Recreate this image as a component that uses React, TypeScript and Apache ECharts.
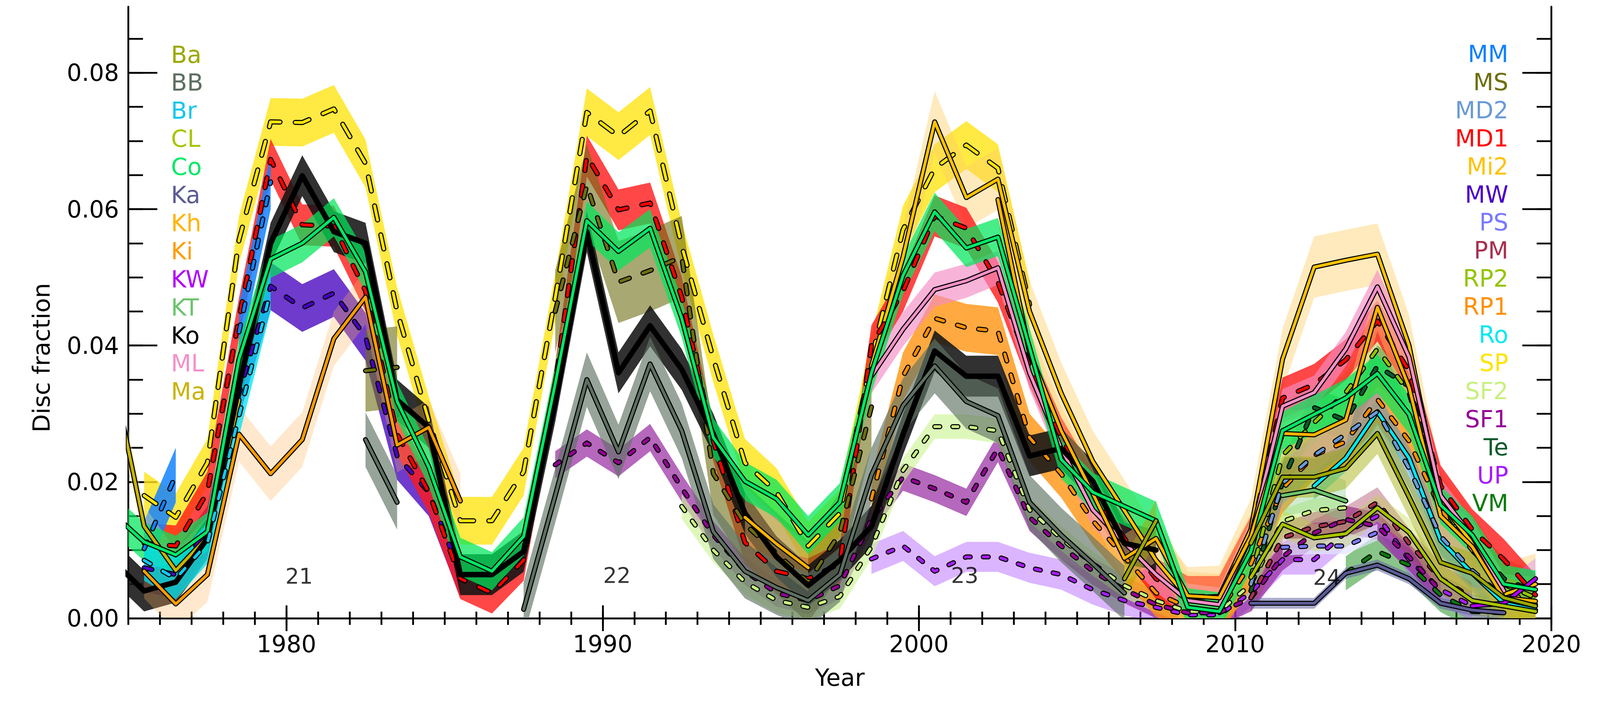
import React, { useEffect, useRef, useState } from "react";
import * as echarts from "echarts";

// ---------- data (annual means, plotted at mid-year) ----------
const LEGEND_LEFT = ["Ba", "BB", "Br", "CL", "Co", "Ka", "Kh", "Ki", "KW", "KT", "Ko", "ML", "Ma"];
const LEGEND_RIGHT = ["MM", "MS", "MD2", "MD1", "Mi2", "MW", "PS", "PM", "RP2", "RP1", "Ro", "SP", "SF2", "SF1", "Te", "UP", "VM"];

const Ba_FROM = 2006.5;
const Ba_VAL = [0.0058, 0.0143, null, null, 0.011, 0.0207, 0.0207, 0.022, 0.0271, 0.0178, 0.0082, 0.0066, 0.003, 0.0018];
const BB_FROM = 1982.5;
const BB_VAL = [0.0262, 0.017, null, null, null, 0.0013, 0.018, 0.035, 0.0244, 0.0373, 0.0275, 0.0127, 0.0069, 0.0045, 0.0026, 0.0064, 0.021, 0.0312, 0.037, 0.0318, 0.0297, 0.017, 0.0122, 0.008, 0.0037];
const Br_FROM = 1975.5;
const Br_VAL = [0.0085, 0.0058, 0.011, 0.0297, 0.048];
const CL_FROM = 2010.5;
const CL_VAL = [0.006, 0.0138, 0.0118, 0.0124, 0.0162, 0.0126, 0.0058, 0.0026, 0.0018, 0.001];
const Co_FROM = 1974.5;
const Co_VAL = [0.0154, 0.0112, 0.0093, 0.0127, 0.038, 0.0527, 0.055, 0.0588, 0.0508, 0.0318, 0.0222, 0.009, 0.0069, 0.012, 0.0344, 0.0583, 0.0538, 0.0572, 0.044, 0.0265, 0.0201, 0.0175, 0.0122, 0.017, 0.036, 0.0503, 0.0596, 0.0543, 0.0559, 0.0397, 0.0233, 0.0185, 0.0164, 0.0143, 0.0016, 0.001, 0.0098, 0.0275, 0.0299, 0.0323, 0.0359, 0.0299, 0.0166, 0.0122, 0.005, 0.0042];
const Ka_FROM = 2010.5;
const Ka_VAL = [0.0022, 0.0022, 0.0022, 0.0066, 0.0078, 0.0058, 0.0022, 0.0012, 0.0008];
const Kh_FROM = 1994.5;
const Kh_VAL = [0.0148, 0.0109, 0.0074, null, null, null, null, null, 0.0614, 0.039, 0.0275, 0.0183, 0.0088, 0.0117, 0.0033, 0.003, 0.012, 0.0271, 0.0269, 0.0291, 0.0456, 0.0339, 0.015, 0.0105, 0.003, 0.0025];
const Ki_FROM = 1975.5;
const Ki_VAL = [0.0069, 0.0021, 0.0064, 0.027, 0.0212, 0.0262, 0.041, 0.0471, 0.0254, 0.028, 0.0172];
const KW_FROM = 2017.5;
const KW_VAL = [0.0018, 0.0022, 0.0058];
const KT_FROM = 2011.5;
const KT_VAL = [0.018, 0.0188, 0.0172];
const Ko_FROM = 1974.5;
const Ko_VAL = [0.0085, 0.004, 0.0053, 0.0117, 0.034, 0.055, 0.0649, 0.0567, 0.055, 0.032, 0.028, 0.0064, 0.0064, 0.0098, 0.0318, 0.0567, 0.036, 0.0429, 0.0365, 0.027, 0.0154, 0.009, 0.0048, 0.0085, 0.0135, 0.027, 0.0392, 0.0355, 0.0355, 0.0238, 0.0249, 0.0201, 0.011, 0.01];
const ML_FROM = 1998.5;
const ML_VAL = [0.0355, 0.0424, 0.0482, 0.0495, 0.0514, 0.036, 0.0249, 0.0159, 0.0111, 0.0064, 0.0026, 0.002, 0.012, 0.0311, 0.0331, 0.0395, 0.0486, 0.0383, 0.018, 0.012, 0.004];
const Ma_FROM = 1974.5;
const Ma_VAL = [0.036, 0.0135, 0.007, 0.0119, 0.032];
const MM_FROM = 1975.5;
const MM_VAL = [0.0102, 0.021, null, 0.042, 0.064];
const MS_FROM = 1982.5;
const MS_VAL = [0.0363, 0.0368, null, null, null, null, 0.045, 0.0635, 0.0493, 0.051, 0.053, 0.0212, 0.0138, 0.0095, 0.0053, 0.0125, 0.031];
const MD2_FROM = 2010.5;
const MD2_VAL = [0.005, 0.0198, 0.0239, 0.027, 0.0303, 0.022, 0.012, 0.007, 0.003];
const MD1_FROM = 1975.5;
const MD1_VAL = [0.011, 0.0106, 0.0185, 0.044, 0.0673, 0.0577, 0.0575, 0.048, 0.027, 0.0185, 0.0058, 0.0037, 0.0085, 0.0344, 0.0678, 0.0599, 0.0609, 0.0471, 0.026, 0.0111, 0.0069, 0.0058, 0.008, 0.04, 0.048, 0.059, 0.0572, 0.0493, 0.037, 0.0265, 0.0185, 0.0117, 0.0058, 0.0032, 0.0032, 0.012, 0.0323, 0.0343, 0.0379, 0.0436, 0.0363, 0.0194, 0.013, 0.0086, 0.0034];
const Mi2_FROM = 1998.5;
const Mi2_VAL = [0.037, 0.053, 0.0728, 0.0617, 0.0644, 0.045, 0.033, 0.023, 0.0158, 0.0085, 0.003, 0.0032, 0.013, 0.038, 0.0515, 0.0525, 0.0534, 0.04, 0.017, 0.011, 0.0035, 0.005];
const MW_FROM = 1975.5;
const MW_VAL = [0.0074, 0.0064, 0.013, 0.033, 0.0487, 0.0455, 0.0477, 0.0413, 0.0238, 0.0185, 0.0065];
const PS_FROM = 2011.5;
const PS_VAL = [0.0104, 0.0106, 0.0106, 0.0126];
const PM_FROM = 2010.5;
const PM_VAL = [0.003, 0.0118, 0.0134, 0.0142, 0.017, 0.011, 0.0058, 0.003];
const RP2_FROM = 2010.5;
const RP2_VAL = [0.006, 0.0239, 0.0287, 0.0331, 0.0395, 0.0331, 0.017, 0.01, 0.005, 0.003];
const RP1_FROM = 1998.5;
const RP1_VAL = [0.0175, 0.0355, 0.044, 0.0426, 0.0421, 0.0265, 0.0212, 0.0143, 0.009, 0.0037, 0.0016, 0.001, 0.008, 0.019, 0.0239, 0.0259, 0.0321, 0.026, 0.016, 0.01, 0.004, 0.002];
const Ro_FROM = 2012.5;
const Ro_VAL = [0.0194, 0.0235, 0.0303, 0.0235, 0.0114, 0.0066, 0.0022, 0.0012];
const SP_FROM = 1975.5;
const SP_VAL = [0.018, 0.0148, 0.0228, 0.0555, 0.0728, 0.0727, 0.0747, 0.0667, 0.045, 0.029, 0.0143, 0.0143, 0.0215, 0.047, 0.0742, 0.0707, 0.0744, 0.0546, 0.0381, 0.0228, 0.0185, 0.0106, 0.0154, 0.038, 0.057, 0.066, 0.0694, 0.066, 0.046];
const SF2_FROM = 1992.5;
const SF2_VAL = [0.0164, 0.01, 0.0053, 0.0026, 0.0016, 0.0032, 0.0105, 0.0217, 0.0281, 0.0281, 0.0275, 0.0159, 0.0117, 0.008, 0.0048, 0.0026, 0.001, 0.001, 0.005, 0.0142, 0.0158, 0.0162];
const SF1_FROM = 1988.5;
const SF1_VAL = [0.0225, 0.0257, 0.0228, 0.0265, 0.0191, 0.0122, 0.0069, 0.0037, 0.0026, 0.0048, 0.0145, 0.0207, 0.019, 0.017, 0.0249, 0.0148, 0.0106, 0.0069, 0.0042, 0.002, 0.0008, 0.0008, 0.003, 0.009, 0.0125, 0.0145, 0.0135, 0.009, 0.004];
const Te_FROM = 2010.5;
const Te_VAL = [0.004, 0.02, 0.0309, 0.029, 0.037, 0.034, 0.0178, 0.011, 0.0058, 0.0038];
const UP_FROM = 1998.5;
const UP_VAL = [0.0087, 0.0106, 0.0069, 0.009, 0.009, 0.0074, 0.0064, 0.0042, 0.0026, 0.0016, 0.0005, 0.0005, 0.0038, 0.0086, 0.0086, 0.0126, 0.015, 0.0086, 0.0042, 0.0018];
const VM_FROM = 2013.5;
const VM_VAL = [0.0066, 0.0098, 0.0078, 0.0034, 0.001, 0.0008];

// half-width of each uncertainty band
const BAND_HALF_WIDTH: Record<string, number> = {
  Ba: 0.003, BB: 0.004, Br: 0.003, CL: 0.002, Co: 0.0028, Ka: 0.0008, Kh: 0.0035, Ki: 0.004,
  KW: 0.003, KT: 0.003, Ko: 0.003, ML: 0.0025, Ma: 0.003, MM: 0.004, MS: 0.006, MD2: 0.003,
  MD1: 0.003, Mi2: 0.0045, MW: 0.0035, PS: 0.0012, PM: 0.0022, RP2: 0.003, RP1: 0.0035,
  Ro: 0.002, SP: 0.0035, SF2: 0.0018, SF1: 0.002, Te: 0.003, UP: 0.0022, VM: 0.0025,
};

const SERIES_DATA: Record<string, [number, (number | null)[]]> = {
  Ba: [Ba_FROM, Ba_VAL], BB: [BB_FROM, BB_VAL], Br: [Br_FROM, Br_VAL], CL: [CL_FROM, CL_VAL],
  Co: [Co_FROM, Co_VAL], Ka: [Ka_FROM, Ka_VAL], Kh: [Kh_FROM, Kh_VAL], Ki: [Ki_FROM, Ki_VAL],
  KW: [KW_FROM, KW_VAL], KT: [KT_FROM, KT_VAL], Ko: [Ko_FROM, Ko_VAL], ML: [ML_FROM, ML_VAL],
  Ma: [Ma_FROM, Ma_VAL], MM: [MM_FROM, MM_VAL], MS: [MS_FROM, MS_VAL], MD2: [MD2_FROM, MD2_VAL],
  MD1: [MD1_FROM, MD1_VAL], Mi2: [Mi2_FROM, Mi2_VAL], MW: [MW_FROM, MW_VAL], PS: [PS_FROM, PS_VAL],
  PM: [PM_FROM, PM_VAL], RP2: [RP2_FROM, RP2_VAL], RP1: [RP1_FROM, RP1_VAL], Ro: [Ro_FROM, Ro_VAL],
  SP: [SP_FROM, SP_VAL], SF2: [SF2_FROM, SF2_VAL], SF1: [SF1_FROM, SF1_VAL], Te: [Te_FROM, Te_VAL],
  UP: [UP_FROM, UP_VAL], VM: [VM_FROM, VM_VAL],
};

const CYCLE_NAMES = ["21", "22", "23", "24"];
const CYCLE_X = [1980.4, 1990.45, 2001.45, 2012.9];
const CYCLE_Y = [0.0062, 0.0063, 0.0063, 0.006];

const X_MIN = 1975;
const X_MAX = 2020;
const Y_MIN = 0;
const Y_MAX = 0.0897;
const X_MAJOR = [1980, 1990, 2000, 2010, 2020];
const X_MINOR = Array.from({ length: 46 }, (_, i) => 1975 + i);
const Y_MAJOR = [0, 0.02, 0.04, 0.06, 0.08];
const Y_MINOR = Array.from({ length: 18 }, (_, i) => +(i * 0.005).toFixed(3));

// ---------- styles ----------
type Sty = { color: string; band: string; kind: "solid" | "plain" | "dash"; dash?: number[] };
const STYLE: Record<string, Sty> = {
  Ba: { color: "#9ca800", band: "rgba(160,170,0,0.45)", kind: "solid" },
  BB: { color: "#5d6f62", band: "rgba(95,115,100,0.65)", kind: "solid" },
  Br: { color: "#12c8ee", band: "rgba(0,225,240,0.75)", kind: "dash", dash: [20, 40] },
  CL: { color: "#a8c400", band: "rgba(190,215,60,0.35)", kind: "solid" },
  Co: { color: "#00e865", band: "rgba(0,230,90,0.72)", kind: "solid" },
  Ka: { color: "#5b5b95", band: "rgba(100,100,160,0.55)", kind: "solid" },
  Kh: { color: "#ffb400", band: "rgba(255,205,110,0.4)", kind: "solid" },
  Ki: { color: "#ff9c00", band: "rgba(255,180,90,0.3)", kind: "solid" },
  KW: { color: "#b000ff", band: "rgba(200,120,255,0.35)", kind: "solid" },
  KT: { color: "#6cc46c", band: "rgba(120,200,130,0.35)", kind: "solid" },
  Ko: { color: "#000000", band: "rgba(20,20,20,0.88)", kind: "plain" },
  ML: { color: "#f590c8", band: "rgba(245,140,195,0.65)", kind: "solid" },
  Ma: { color: "#c8b400", band: "rgba(235,225,150,0.35)", kind: "solid" },
  MM: { color: "#1080ff", band: "rgba(20,130,255,0.85)", kind: "dash", dash: [20, 40] },
  MS: { color: "#6e6e10", band: "rgba(110,110,20,0.6)", kind: "dash", dash: [25, 40] },
  MD2: { color: "#6a9ad6", band: "rgba(100,150,210,0.5)", kind: "dash", dash: [20, 40] },
  MD1: { color: "#ff0000", band: "rgba(255,25,25,0.8)", kind: "dash", dash: [28, 42] },
  Mi2: { color: "#ffc200", band: "rgba(255,205,100,0.42)", kind: "solid" },
  MW: { color: "#4a00c8", band: "rgba(85,25,195,0.85)", kind: "dash", dash: [22, 40] },
  PS: { color: "#7a7aff", band: "rgba(225,230,255,0.7)", kind: "dash", dash: [14, 36] },
  PM: { color: "#a83050", band: "rgba(165,60,90,0.4)", kind: "dash", dash: [14, 36] },
  RP2: { color: "#94c400", band: "rgba(150,200,30,0.45)", kind: "dash", dash: [20, 40] },
  RP1: { color: "#ff9000", band: "rgba(255,145,10,0.78)", kind: "dash", dash: [20, 40] },
  Ro: { color: "#00e8f0", band: "rgba(0,215,235,0.55)", kind: "solid" },
  SP: { color: "#ffe400", band: "rgba(255,228,20,0.8)", kind: "dash", dash: [40, 42] },
  SF2: { color: "#c8f080", band: "rgba(205,245,150,0.65)", kind: "dash", dash: [14, 36] },
  SF1: { color: "#960096", band: "rgba(150,40,160,0.7)", kind: "dash", dash: [14, 36] },
  Te: { color: "#0e5a2a", band: "rgba(20,100,50,0.5)", kind: "dash", dash: [20, 40] },
  UP: { color: "#a81cff", band: "rgba(175,90,255,0.45)", kind: "dash", dash: [14, 36] },
  VM: { color: "#0a7a0a", band: "rgba(20,140,20,0.5)", kind: "dash", dash: [20, 40] },
};

const FONT = '"DejaVu Sans", sans-serif';

function toPairs(from: number, vals: (number | null)[]) {
  return vals.map((v, i) => [from + i, v]);
}

function runsOf(pairs: (number | null)[][]) {
  const runs: number[][][] = [];
  let cur: number[][] = [];
  for (const p of pairs) {
    if (p[1] === null) {
      if (cur.length > 1) runs.push(cur);
      cur = [];
    } else cur.push(p as number[]);
  }
  if (cur.length > 1) runs.push(cur);
  return runs;
}

// layout designed for a 4800 x 1800 canvas; scaled to the real size
function buildOption(W: number, H: number) {
  const sx = W / 4800;
  const sy = H / 1800;
  const s = Math.sqrt(sx * sy);
  const FS = 65 * s;
  const order = [...LEGEND_LEFT, ...LEGEND_RIGHT].reverse();
  const bands: any[] = [];
  const lines: any[] = [];
  for (const name of order) {
    const [from, vals] = SERIES_DATA[name];
    const st = STYLE[name];
    const hw = BAND_HALF_WIDTH[name];
    const pairs = toPairs(from, vals);
    const runs = runsOf(pairs);
    bands.push({
      type: "custom",
      name: name + "-band",
      silent: true,
      clip: true,
      z: 1,
      xAxisIndex: 0,
      yAxisIndex: 0,
      encode: { x: 0, y: 1 },
      data: runs.map((r, i) => [r[0][0], r[0][1], i]),
      renderItem: (params: any, api: any) => {
        const run = runs[params.dataIndex];
        if (!run) return null;
        const top = run.map((p) => api.coord([p[0], p[1] + hw]));
        const bot = run.map((p) => api.coord([p[0], p[1] - hw])).reverse();
        return {
          type: "polygon",
          shape: { points: top.concat(bot) },
          style: { fill: st.band },
        };
      },
    });
    const lineData = pairs.map((p) => [p[0], p[1] === null ? "-" : p[1]]);
    const base = {
      type: "line",
      data: lineData,
      showSymbol: false,
      symbol: "none",
      silent: true,
      connectNulls: false,
      xAxisIndex: 0,
      yAxisIndex: 0,
      z: 3,
    };
    if (st.kind === "plain") {
      lines.push({ ...base, name, lineStyle: { color: st.color, width: 15 * s, cap: "round", join: "round" } });
    } else {
      const dashed = st.kind === "dash";
      const w = 8 * s;
      const type = dashed ? (st.dash as number[]).map((d) => d * s) : "solid";
      lines.push({
        ...base,
        name: name + "-outline",
        lineStyle: { color: "#000", width: w + 6 * s, type, cap: "round", join: "round" },
      });
      lines.push({
        ...base,
        name,
        lineStyle: { color: st.color, width: w, type, cap: "round", join: "round" },
      });
    }
  }

  const cycles = {
    type: "scatter",
    silent: true,
    z: 5,
    symbolSize: 1,
    itemStyle: { color: "rgba(0,0,0,0)" },
    xAxisIndex: 0,
    yAxisIndex: 0,
    data: CYCLE_NAMES.map((n, i) => ({ name: n, value: [CYCLE_X[i], CYCLE_Y[i]] })),
    label: {
      show: true,
      position: "inside",
      formatter: "{b}",
      fontFamily: FONT,
      fontSize: 60 * s,
      color: "#000",
    },
  };

  const axisLineStyle = { color: "#000", width: 5 * s };
  const tickLine = { color: "#000", width: 5 * s };
  const xBase = { type: "value", min: X_MIN, max: X_MAX, splitLine: { show: false } };
  const yBase = { type: "value", min: Y_MIN, max: Y_MAX, splitLine: { show: false } };

  const xAxis = [
    {
      ...xBase,
      position: "bottom",
      axisLine: { show: true, lineStyle: axisLineStyle },
      axisTick: { show: true, inside: true, length: 17 * sy, lineStyle: tickLine, customValues: X_MINOR },
      axisLabel: { show: false },
    },
    {
      ...xBase,
      position: "bottom",
      axisLine: { show: false },
      axisTick: { show: true, inside: true, length: 33 * sy, lineStyle: tickLine, customValues: X_MAJOR },
      axisLabel: {
        show: true,
        customValues: X_MAJOR,
        formatter: (v: number) => String(Math.round(v)),
        fontFamily: FONT,
        fontSize: FS,
        color: "#000",
        margin: 36 * sy,
      },
      name: "Year",
      nameLocation: "middle",
      nameGap: 122 * sy,
      nameTextStyle: { fontFamily: FONT, fontSize: FS, color: "#000" },
    },
    {
      ...xBase,
      position: "top",
      axisLine: { show: true, lineStyle: axisLineStyle },
      axisTick: { show: true, inside: true, length: 17 * sy, lineStyle: tickLine, customValues: X_MINOR },
      axisLabel: { show: false },
    },
    {
      ...xBase,
      position: "top",
      axisLine: { show: false },
      axisTick: { show: true, inside: true, length: 33 * sy, lineStyle: tickLine, customValues: X_MAJOR },
      axisLabel: { show: false },
    },
  ];

  const yAxis = [
    {
      ...yBase,
      position: "left",
      axisLine: { show: true, lineStyle: axisLineStyle },
      axisTick: { show: true, inside: true, length: 44 * sx, lineStyle: tickLine, customValues: Y_MINOR },
      axisLabel: { show: false },
    },
    {
      ...yBase,
      position: "left",
      axisLine: { show: false },
      axisTick: { show: true, inside: true, length: 87 * sx, lineStyle: tickLine, customValues: Y_MAJOR },
      axisLabel: {
        show: true,
        customValues: Y_MAJOR,
        formatter: (v: number) => v.toFixed(2),
        fontFamily: FONT,
        fontSize: FS,
        color: "#000",
        margin: 28 * sx,
      },
    },
    {
      ...yBase,
      position: "right",
      axisLine: { show: true, lineStyle: axisLineStyle },
      axisTick: { show: true, inside: true, length: 44 * sx, lineStyle: tickLine, customValues: Y_MINOR },
      axisLabel: { show: false },
    },
    {
      ...yBase,
      position: "right",
      axisLine: { show: false },
      axisTick: { show: true, inside: true, length: 87 * sx, lineStyle: tickLine, customValues: Y_MAJOR },
      axisLabel: { show: false },
    },
  ];

  const texts: any[] = [];
  LEGEND_LEFT.forEach((n, i) => {
    texts.push({
      type: "text",
      x: 513 * sx,
      y: (139.5 + i * 71.9) * sy,
      z: 10,
      style: {
        text: n,
        fill: STYLE[n].color,
        font: `${FS}px ${FONT}`,
        textAlign: "left",
        textVerticalAlign: "middle",
      },
    });
  });
  LEGEND_RIGHT.forEach((n, i) => {
    texts.push({
      type: "text",
      x: 4525 * sx,
      y: (138 + i * 71.9) * sy,
      z: 10,
      style: {
        text: n,
        fill: STYLE[n].color,
        font: `${FS}px ${FONT}`,
        textAlign: "right",
        textVerticalAlign: "middle",
      },
    });
  });
  texts.push({
    type: "text",
    x: 124 * sx,
    y: 916 * sy,
    rotation: Math.PI / 2,
    z: 10,
    style: {
      text: "Disc fraction",
      fill: "#000",
      font: `${66 * s}px ${FONT}`,
      textAlign: "center",
      textVerticalAlign: "middle",
    },
  });

  return {
    animation: false,
    backgroundColor: "#ffffff",
    grid: { left: 385 * sx, right: 146 * sx, top: 17 * sy, bottom: 217 * sy, containLabel: false },
    xAxis,
    yAxis,
    series: [...bands, ...lines, cycles],
    graphic: texts,
  };
}

export default function App() {
  const ref = useRef<HTMLDivElement>(null);
  const [size] = useState(() => ({
    w: Math.max(300, document.documentElement.clientWidth || window.innerWidth),
    h: Math.max(200, window.innerHeight),
  }));
  useEffect(() => {
    document.body.style.margin = "0";
    document.body.style.overflow = "hidden";
    if (!ref.current) return;
    const chart = echarts.init(ref.current, undefined, { renderer: "svg" });
    chart.setOption(buildOption(size.w, size.h) as any);
    return () => chart.dispose();
  }, [size]);
  return <div ref={ref} style={{ width: size.w, height: size.h, background: "#fff" }} />;
}
